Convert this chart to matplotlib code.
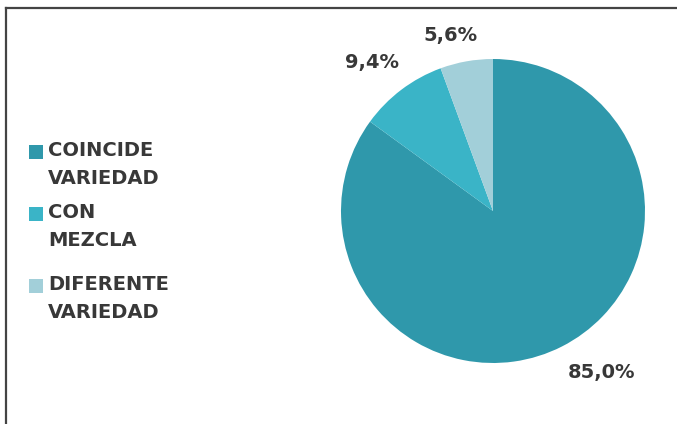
import numpy as np
import matplotlib.pyplot as plt
from matplotlib.lines import Line2D
from matplotlib.patches import Rectangle

categories = ['COINCIDE\nVARIEDAD', 'CON\nMEZCLA', 'DIFERENTE\nVARIEDAD']
values = [85.0, 9.4, 5.6]
pct_labels = ['85,0%', '9,4%', '5,6%']
colors = ['#2f98ab', '#3ab4c7', '#a2cfd9']

plt.rcParams['font.family'] = ['DejaVu Sans']

W, H = 677, 424
fig = plt.figure(figsize=(W / 100, H / 100), dpi=100)
fig.patch.set_facecolor('white')

# frame lines (top and left only)
fig.add_artist(Line2D([6 / W, 1], [1 - 8 / H, 1 - 8 / H], color='#444444', lw=1.6, transform=fig.transFigure))
fig.add_artist(Line2D([6 / W, 6 / W], [0, 1 - 8 / H], color='#444444', lw=1.6, transform=fig.transFigure))

cx, cy, r = 493, 211, 152
ax = fig.add_axes([(cx - r) / W, (H - cy - r) / H, 2 * r / W, 2 * r / H])
wedges, _ = ax.pie(values, colors=colors, startangle=90, counterclock=False,
                   wedgeprops=dict(linewidth=0))
ax.set_xlim(-1, 1)
ax.set_ylim(-1, 1)
ax.set_aspect('equal')

# percentage labels outside the wedges
dists = [1.28, 1.26, 1.19]
shifts = [7, 2, 3.5]
for w, lab, d, s in zip(wedges, pct_labels, dists, shifts):
    ang = np.deg2rad((w.theta1 + w.theta2) / 2 + s)
    ax.text(d * np.cos(ang), d * np.sin(ang), lab, ha='center', va='center',
            fontsize=14, fontweight='bold', color='#383838', clip_on=False)

# legend drawn by hand: square aligned with the first text line
first_lines = [152, 214, 286]
for lab, c, y in zip(categories, colors, first_lines):
    fig.add_artist(Rectangle((29 / W, 1 - (y + 7) / H), 14 / W, 14 / H,
                             facecolor=c, edgecolor='none', transform=fig.transFigure))
    fig.text(48 / W, 1 - (y - 11) / H, lab, ha='left', va='top', fontsize=14,
             fontweight='bold', color='#383838', linespacing=1.6)

fig.savefig('out.png', dpi=100, facecolor='white')
